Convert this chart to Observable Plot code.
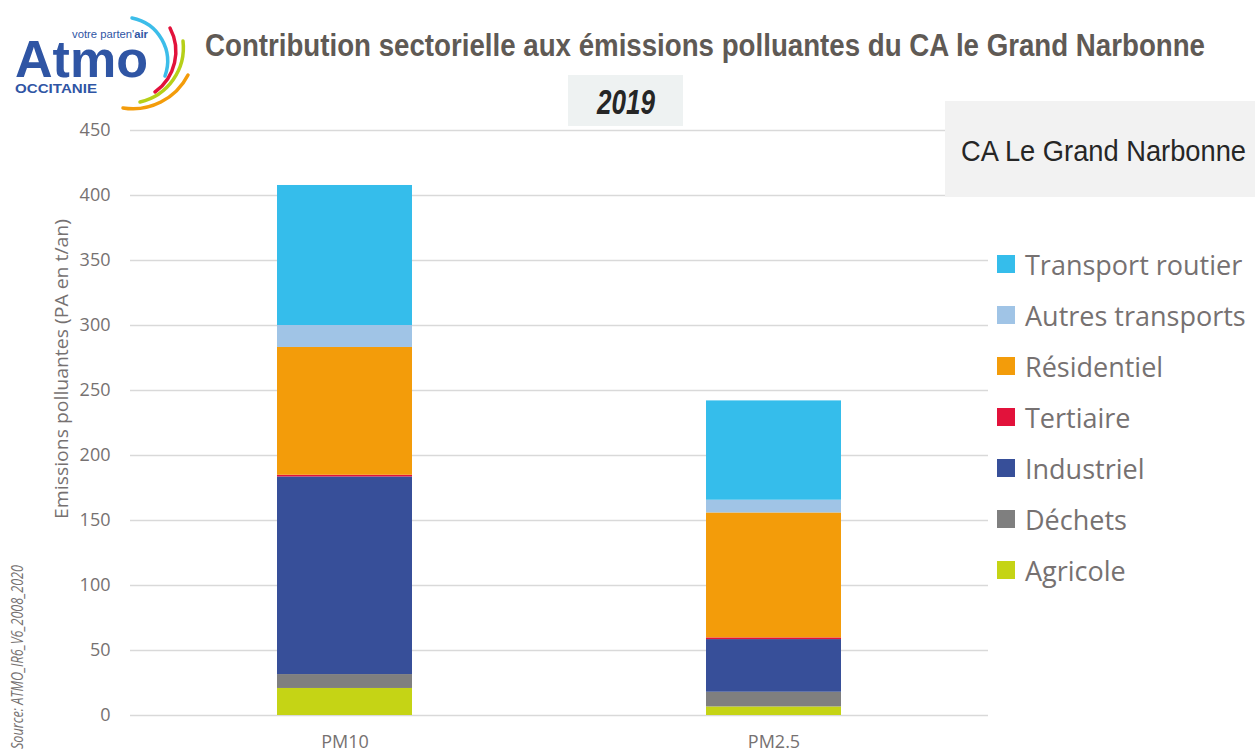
<!DOCTYPE html>
<html>
<head>
<meta charset="utf-8">
<script src="https://cdn.jsdelivr.net/npm/d3@7"></script>
<script src="https://cdn.jsdelivr.net/npm/@observablehq/plot@0.6"></script>
<style>
  body { margin: 0; background: #fff; }
  #wrap { position: relative; width: 1255px; height: 754px; overflow: hidden; background: #fff; }
  #chart { position: absolute; left: 0; top: 0; }
  #deco { position: absolute; left: 0; top: 0; pointer-events: none; }
  .leg { position: absolute; left: 997px; height: 30px; display: flex; align-items: center;
         font-family: "Open Sans", sans-serif; font-size: 27px; color: #767171; white-space: nowrap; }
  .leg span.sw { display: inline-block; width: 18px; height: 18px; margin-right: 10px; }
</style>
</head>
<body>
<div id="wrap">
  <div id="chart"></div>
  <svg id="deco" width="1255" height="754" xmlns="http://www.w3.org/2000/svg">
    <!-- logo -->
    <text x="72" y="38" font-family="Liberation Sans, Arial, sans-serif" font-size="10" fill="#2f55a4" textLength="76" lengthAdjust="spacingAndGlyphs">votre parten'<tspan font-weight="bold">air</tspan></text>
    <text x="15" y="77" font-family="Liberation Sans, Arial, sans-serif" font-weight="bold" font-size="52" fill="#2f55a4" textLength="133" lengthAdjust="spacingAndGlyphs">Atmo</text>
    <text x="15" y="93" font-family="Liberation Sans, Arial, sans-serif" font-weight="bold" font-size="13" fill="#2f55a4" textLength="82" lengthAdjust="spacingAndGlyphs">OCCITANIE</text>
    <path d="M132,18 A44,44 0 0 1 165,76" fill="none" stroke="#3cbde9" stroke-width="3.5" stroke-linecap="round"/>
    <path d="M170,28 A50,50 0 0 1 155,92" fill="none" stroke="#e2123b" stroke-width="3.5" stroke-linecap="round"/>
    <path d="M183,41 A56,56 0 0 1 140,102" fill="none" stroke="#b6cf18" stroke-width="3.5" stroke-linecap="round"/>
    <path d="M188,75 A62,62 0 0 1 123,108" fill="none" stroke="#f39c0a" stroke-width="3.5" stroke-linecap="round"/>
    <!-- title -->
    <text x="205" y="56" font-family="Liberation Sans, Arial, sans-serif" font-weight="bold" font-size="32" fill="#5f5a55" textLength="1000" lengthAdjust="spacingAndGlyphs">Contribution sectorielle aux émissions polluantes du CA le Grand Narbonne</text>
    <!-- year box -->
    <rect x="568" y="75" width="115" height="51" fill="#eef2f2"/>
    <text x="626" y="114" text-anchor="middle" font-family="Liberation Sans, Arial, sans-serif" font-weight="bold" font-style="italic" font-size="35" fill="#262626" textLength="58" lengthAdjust="spacingAndGlyphs">2019</text>
    <!-- territory box -->
    <rect x="945" y="101" width="310" height="96" fill="#f2f2f2"/>
    <text x="961" y="161" font-family="Liberation Sans, Arial, sans-serif" font-size="30" fill="#262626" textLength="285" lengthAdjust="spacingAndGlyphs">CA Le Grand Narbonne</text>
    <!-- y label -->
    <text transform="translate(68,369) rotate(-90)" text-anchor="middle" font-family="Open Sans, sans-serif" font-size="18" fill="#767171" textLength="300" lengthAdjust="spacingAndGlyphs">Emissions polluantes (PA en t/an)</text>
    <!-- source -->
    <text transform="translate(23,657) rotate(-90)" text-anchor="middle" font-family="Open Sans, sans-serif" font-style="italic" font-size="17" fill="#767171" textLength="184" lengthAdjust="spacingAndGlyphs">Source: ATMO_IR6_V6_2008_2020</text>
  </svg>
</div>
<script>
const pollutants = ["PM10", "PM2.5"];
// stacking order, bottom to top
const sectors = ["Agricole", "Déchets", "Industriel", "Tertiaire", "Résidentiel", "Autres transports", "Transport routier"];
const pm10 = [20.8, 10.7, 152.0, 1.3, 98.3, 16.9, 107.7];
const pm25 = [6.6, 11.3, 40.5, 1.3, 96.1, 9.8, 76.4];
const sectorColors = ["#c5d415", "#7f7f7f", "#374f99", "#e2123b", "#f39c0a", "#a0c4e6", "#35bdeb"];
const yTicks = [0, 50, 100, 150, 200, 250, 300, 350, 400, 450];

const seriesByPollutant = [pm10, pm25];
const data = pollutants.flatMap((p, i) =>
  sectors.map((s, j) => ({pollutant: p, sector: s, value: seriesByPollutant[i][j]}))
);

const chart = Plot.plot({
  width: 1255,
  height: 754,
  marginTop: 130,
  marginBottom: 39,
  marginLeft: 130,
  marginRight: 267,
  style: {fontFamily: "Open Sans, sans-serif", fontSize: "18px", color: "#767171", background: "transparent", overflow: "visible"},
  x: {domain: pollutants, paddingInner: 0.685, paddingOuter: 0.3425},
  y: {domain: [0, 450]},
  color: {domain: sectors, range: sectorColors},
  marks: [
    Plot.gridY(yTicks, {stroke: "#d9d9d9", strokeOpacity: 1, strokeWidth: 1.5}),
    Plot.barY(data, {x: "pollutant", y: "value", fill: "sector", order: sectors}),
    Plot.axisY(yTicks, {tickSize: 0, tickPadding: 20, fontSize: 18, label: null}),
    Plot.axisX({tickSize: 0, tickPadding: 20, fontSize: 18, label: null})
  ]
});
document.getElementById("chart").appendChild(chart);

// legend (top to bottom = reverse stacking order)
const wrap = document.getElementById("wrap");
sectors.slice().reverse().forEach((s, i) => {
  const idx = sectors.indexOf(s);
  const row = document.createElement("div");
  row.className = "leg";
  row.style.top = (265 + 51 * i - 16) + "px";
  const sw = document.createElement("span");
  sw.className = "sw";
  sw.style.background = sectorColors[idx];
  row.appendChild(sw);
  row.appendChild(document.createTextNode(s));
  wrap.appendChild(row);
});
</script>
</body>
</html>
